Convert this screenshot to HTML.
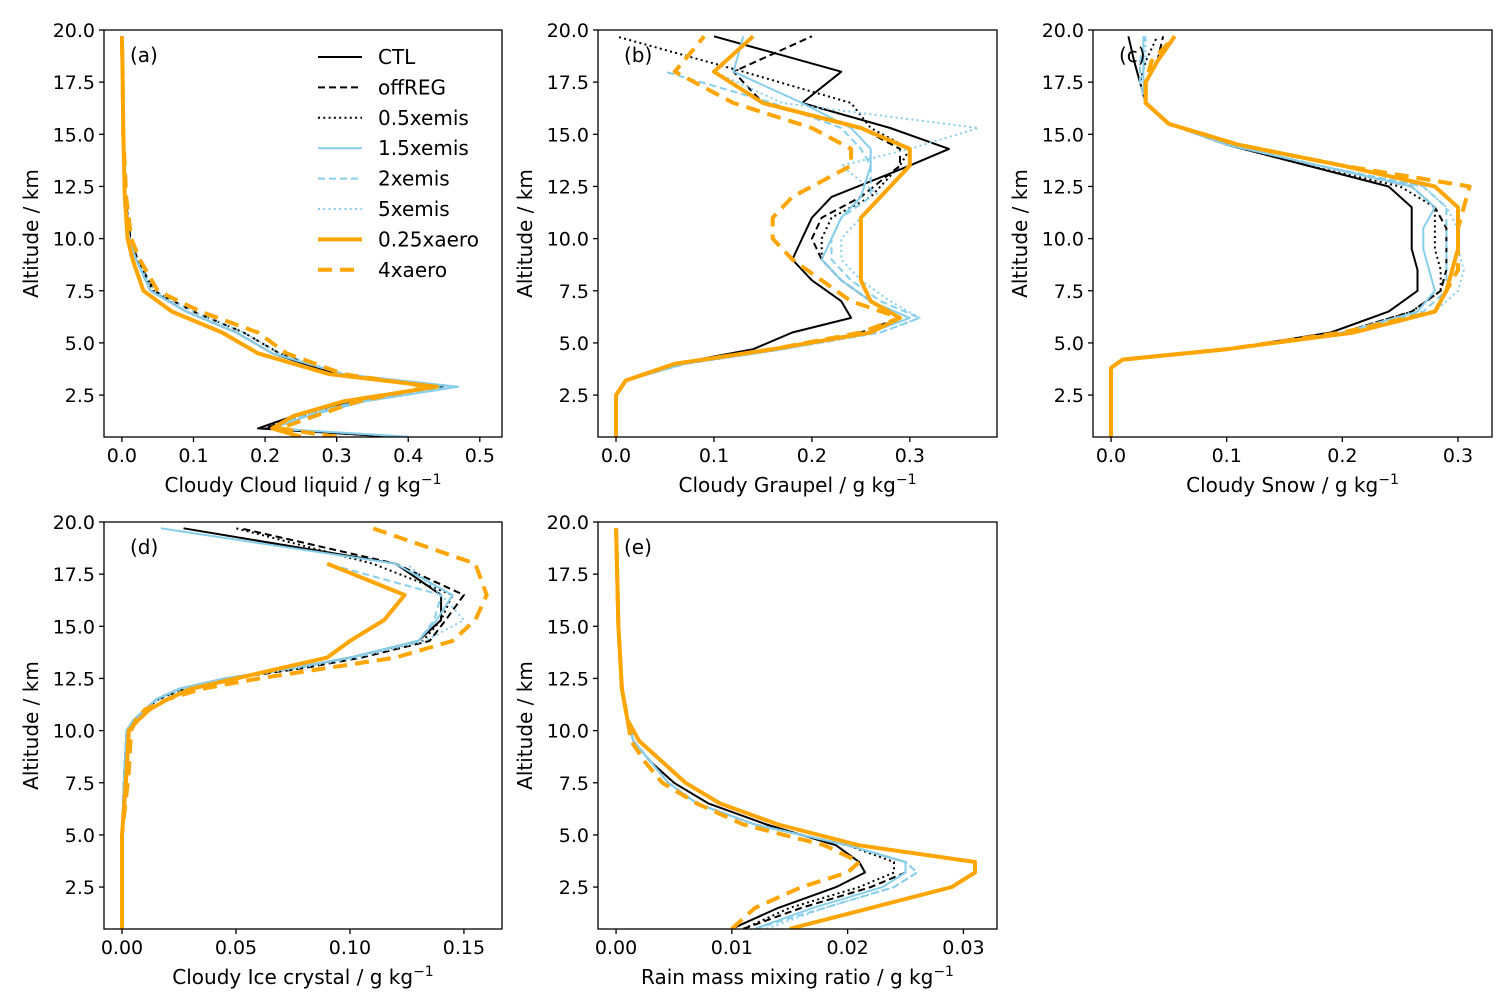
<!DOCTYPE html>
<html><head><meta charset="utf-8">
<style>
html,body{margin:0;padding:0;background:#fff;}
svg{display:block;font-family:"DejaVu Sans","Liberation Sans",sans-serif;}
</style></head>
<body>
<svg id="fig" width="1510" height="1006" viewBox="0 0 1510 1006" xmlns="http://www.w3.org/2000/svg"></svg>
<script>
const seriesNames = ["CTL","offREG","0.5xemis","1.5xemis","2xemis","5xemis","0.25xaero","4xaero"];
const altA = [0.5,0.9,1.5,2.2,2.9,3.5,4.5,5.5,6.5,7.5,9,10,12,15,18,19.7];
const liqCTL   = [0.38,0.19,0.24,0.32,0.44,0.30,0.21,0.16,0.09,0.04,0.02,0.01,0.005,0.002,0.001,0];
const liqOff   = [0.38,0.20,0.25,0.33,0.45,0.30,0.22,0.17,0.10,0.045,0.022,0.012,0.005,0.002,0.001,0];
const liqHalf  = [0.38,0.20,0.24,0.32,0.44,0.30,0.21,0.16,0.09,0.042,0.02,0.011,0.005,0.002,0.001,0];
const liq15    = [0.40,0.21,0.26,0.34,0.47,0.31,0.21,0.16,0.09,0.04,0.02,0.01,0.005,0.002,0.001,0];
const liq2     = [0.40,0.21,0.25,0.33,0.46,0.31,0.21,0.16,0.09,0.04,0.02,0.01,0.005,0.002,0.001,0];
const liq5     = [0.40,0.21,0.25,0.33,0.45,0.31,0.22,0.17,0.10,0.045,0.02,0.01,0.005,0.002,0.001,0];
const liqA025  = [0.25,0.21,0.24,0.31,0.44,0.29,0.19,0.14,0.07,0.03,0.015,0.008,0.004,0.002,0.001,0];
const liqA4    = [0.30,0.22,0.27,0.33,0.43,0.31,0.23,0.19,0.11,0.05,0.025,0.013,0.006,0.002,0.001,0];

const altB = [0.5,2.5,3.2,4,4.7,5.5,6.2,7,8,9,10,11,12,13.5,14.3,15.3,16.5,18,19.7];
const grCTL  = [0,0,0.01,0.06,0.14,0.18,0.24,0.23,0.2,0.18,0.19,0.2,0.22,0.3,0.34,0.28,0.19,0.23,0.1];
const grOff  = [0,0,0.01,0.07,0.17,0.25,0.29,0.26,0.23,0.21,0.2,0.21,0.25,0.29,0.29,0.25,0.15,0.12,0.2];
const grHalf = [0,0,0.01,0.07,0.17,0.26,0.29,0.26,0.23,0.21,0.21,0.22,0.26,0.29,0.3,0.26,0.24,0.13,0.0];
const gr15   = [0,0,0.01,0.07,0.17,0.26,0.30,0.26,0.23,0.21,0.22,0.23,0.25,0.26,0.26,0.24,0.19,0.12,0.13];
const gr2    = [0,0,0.01,0.07,0.17,0.27,0.31,0.27,0.24,0.22,0.22,0.23,0.26,0.26,0.25,0.23,0.16,0.05,null];
const gr5    = [0,0,0.01,0.07,0.17,0.27,0.31,0.28,0.25,0.23,0.23,0.25,0.27,0.23,0.3,0.37,0.17,0.1,null];
const grA025 = [0,0,0.01,0.06,0.16,0.26,0.29,0.26,0.25,0.25,0.25,0.25,0.27,0.3,0.3,0.25,0.15,0.1,0.14];
const grA4   = [0,0,0.01,0.06,0.16,0.25,0.29,0.24,0.21,0.18,0.16,0.16,0.18,0.24,0.24,0.2,0.12,0.06,0.09];

const altC = [0.5,3.8,4.2,4.7,5.5,6.5,7.5,8.5,9.5,10.5,11.5,12.5,13.5,14.5,15.5,16.5,17.5,18.5,19.7];
const snCTL  = [0,0,0.01,0.1,0.19,0.24,0.265,0.265,0.26,0.26,0.26,0.24,0.17,0.1,0.05,0.03,0.025,0.02,0.015];
const snOff  = [0,0,0.01,0.1,0.2,0.26,0.285,0.29,0.29,0.29,0.28,0.26,0.18,0.1,0.05,0.03,0.03,0.04,0.045];
const snHalf = [0,0,0.01,0.1,0.2,0.26,0.285,0.285,0.28,0.28,0.28,0.25,0.17,0.1,0.05,0.03,0.025,0.03,0.04];
const sn15   = [0,0,0.01,0.1,0.2,0.265,0.28,0.275,0.27,0.27,0.28,0.26,0.18,0.1,0.05,0.03,0.028,0.028,0.028];
const sn2    = [0,0,0.01,0.1,0.2,0.27,0.29,0.29,0.29,0.29,0.29,0.27,0.18,0.1,0.05,0.03,0.025,0.025,0.03];
const sn5    = [0,0,0.01,0.1,0.2,0.28,0.3,0.305,0.3,0.3,0.29,0.27,0.18,0.1,0.05,0.03,0.025,0.03,0.03];
const snA025 = [0,0,0.01,0.1,0.21,0.28,0.29,0.295,0.3,0.3,0.3,0.28,0.2,0.11,0.05,0.03,0.03,0.04,0.055];
const snA4   = [0,0,0.01,0.1,0.2,0.28,0.29,0.3,0.3,0.3,0.305,0.31,0.2,0.11,0.05,0.03,0.03,0.035,0.055];

const altD = [0.5,5,8,10,10.5,11,11.5,12,12.5,13,13.5,14.3,15.3,16.5,18,19.7];
const icCTL  = [0,0,0.001,0.002,0.005,0.01,0.015,0.025,0.045,0.075,0.1,0.13,0.14,0.14,0.12,0.027];
const icOff  = [0,0,0.001,0.002,0.005,0.01,0.016,0.027,0.048,0.08,0.105,0.135,0.142,0.15,0.12,0.052];
const icHalf = [0,0,0.001,0.002,0.005,0.01,0.015,0.026,0.046,0.077,0.1,0.132,0.14,0.145,0.11,0.05];
const ic15   = [0,0,0.001,0.002,0.005,0.01,0.015,0.025,0.045,0.075,0.1,0.13,0.138,0.145,0.12,0.017];
const ic2    = [0,0,0.001,0.002,0.005,0.01,0.015,0.025,0.045,0.075,0.1,0.13,0.137,0.14,0.09,null];
const ic5    = [0,0,0.001,0.002,0.005,0.01,0.016,0.027,0.047,0.078,0.103,0.133,0.15,0.14,0.125,null];
const icA025 = [0,0,0.002,0.003,0.007,0.012,0.02,0.03,0.05,0.07,0.09,0.1,0.115,0.124,0.09,null];
const icA4   = [0,0,0.003,0.004,0.006,0.01,0.02,0.035,0.06,0.09,0.12,0.145,0.155,0.16,0.155,0.11];

const altE = [0.5,1.5,2.5,3.2,3.7,4.5,5.5,6.5,7.5,8.5,9.5,10.5,12,15,19.7];
const rnCTL  = [0.01,0.014,0.019,0.0215,0.021,0.019,0.013,0.008,0.005,0.003,0.0015,0.001,0.0005,0.0002,0];
const rnOff  = [0.011,0.016,0.022,0.025,0.025,0.02,0.012,0.007,0.0045,0.003,0.0015,0.001,0.0005,0.0002,0];
const rnHalf = [0.011,0.015,0.021,0.024,0.024,0.02,0.012,0.007,0.0045,0.003,0.0015,0.001,0.0005,0.0002,0];
const rn15   = [0.012,0.017,0.023,0.025,0.025,0.02,0.012,0.007,0.0045,0.003,0.0015,0.001,0.0005,0.0002,0];
const rn2    = [0.012,0.018,0.024,0.026,0.025,0.02,0.012,0.007,0.0045,0.003,0.0015,0.001,0.0005,0.0002,0];
const rn5    = [0.013,0.018,0.024,0.026,0.025,0.02,0.012,0.007,0.0045,0.003,0.0015,0.001,0.0005,0.0002,0];
const rnA025 = [0.015,0.022,0.029,0.031,0.031,0.021,0.014,0.009,0.006,0.004,0.002,0.001,0.0005,0.0002,0];
const rnA4   = [0.01,0.012,0.016,0.02,0.021,0.018,0.011,0.007,0.004,0.0025,0.0013,0.001,0.0005,0.0002,0];

const yTicks = ["2.5","5.0","7.5","10.0","12.5","15.0","17.5","20.0"];
const xTicksA = ["0.0","0.1","0.2","0.3","0.4","0.5"];
const xTicksB = ["0.0","0.1","0.2","0.3"];
const xTicksD = ["0.00","0.05","0.10","0.15"];
const xTicksE = ["0.00","0.01","0.02","0.03"];

const styles = [
 {c:"#000",w:2,d:""},{c:"#000",w:2,d:"7,4"},{c:"#000",w:2,d:"2,3.3"},
 {c:"#87CEEB",w:2,d:""},{c:"#87CEEB",w:2,d:"7,4"},{c:"#87CEEB",w:2,d:"2,3.3"},
 {c:"#FFA500",w:4,d:""},{c:"#FFA500",w:4,d:"14,8"}];

const NS="http://www.w3.org/2000/svg";
const svg=document.getElementById('fig');
function mk(tag,attrs,parent){const e=document.createElementNS(NS,tag);for(const k in attrs)e.setAttribute(k,attrs[k]);(parent||svg).appendChild(e);return e;}

const panels=[
 {id:"a",label:"(a)",x0:104,x1:502,y0:30,y1:437,xmin:-0.025,xmax:0.531,ticks:xTicksA,alt:altA,data:[liqCTL,liqOff,liqHalf,liq15,liq2,liq5,liqA025,liqA4],xt:"Cloudy Cloud liquid / g kg"},
 {id:"b",label:"(b)",x0:598,x1:997,y0:30,y1:437,xmin:-0.0184,xmax:0.389,ticks:xTicksB,alt:altB,data:[grCTL,grOff,grHalf,gr15,gr2,gr5,grA025,grA4],xt:"Cloudy Graupel / g kg"},
 {id:"c",label:"(c)",x0:1093,x1:1492,y0:30,y1:437,xmin:-0.0156,xmax:0.3294,ticks:xTicksB,alt:altC,data:[snCTL,snOff,snHalf,sn15,sn2,sn5,snA025,snA4],xt:"Cloudy Snow / g kg"},
 {id:"d",label:"(d)",x0:104,x1:502,y0:522,y1:929,xmin:-0.0079,xmax:0.1667,ticks:xTicksD,alt:altD,data:[icCTL,icOff,icHalf,ic15,ic2,ic5,icA025,icA4],xt:"Cloudy Ice crystal / g kg"},
 {id:"e",label:"(e)",x0:598,x1:997,y0:522,y1:929,xmin:-0.00156,xmax:0.0329,ticks:xTicksE,alt:altE,data:[rnCTL,rnOff,rnHalf,rn15,rn2,rn5,rnA025,rnA4],xt:"Rain mass mixing ratio / g kg"}
];
const yMin=0.49,yMax=20;

panels.forEach(p=>{
  const g=mk('g',{});
  
  
  const sx=v=>p.x0+(v-p.xmin)/(p.xmax-p.xmin)*(p.x1-p.x0);
  const sy=v=>p.y1-(v-yMin)/(yMax-yMin)*(p.y1-p.y0);
  const cid='clip'+p.id;
  const cp=mk('clipPath',{id:cid},g);
  mk('rect',{x:p.x0,y:p.y0,width:p.x1-p.x0,height:p.y1-p.y0},cp);
  const lg=mk('g',{'clip-path':'url(#'+cid+')'},g);
  p.data.forEach((arr,i)=>{
    let d="";let started=false;
    arr.forEach((v,k)=>{ if(v===null)return; d+=(started?"L":"M")+sx(v).toFixed(1)+","+sy(p.alt[k]).toFixed(1); started=true;});
    const s=styles[i];
    const path=mk('path',{d:d,fill:'none',stroke:s.c,'stroke-width':s.w,'stroke-dasharray':s.d,'stroke-linejoin':'round'},lg);
    
    
  });
  const fr=mk('rect',{x:p.x0,y:p.y0,width:p.x1-p.x0,height:p.y1-p.y0,fill:'none',stroke:'#000','stroke-width':1.3},g);
  
  
  yTicks.forEach(t=>{
    const y=sy(parseFloat(t));
    mk('line',{x1:p.x0-5,x2:p.x0,y1:y,y2:y,stroke:'#000','stroke-width':1.3},g);
    const tx=mk('text',{x:p.x0-9,y:y+7,'font-size':19,'text-anchor':'end'},g);
    tx.textContent=t;
    
    
  });
  p.ticks.forEach(t=>{
    const x=sx(parseFloat(t));
    mk('line',{x1:x,x2:x,y1:p.y1,y2:p.y1+5,stroke:'#000','stroke-width':1.3},g);
    const tx=mk('text',{x:x,y:p.y1+25,'font-size':19,'text-anchor':'middle'},g);
    tx.textContent=t;
    
    
  });
  const yt=mk('text',{x:0,y:0,'font-size':20,'text-anchor':'middle',transform:`translate(${p.x0-66},${(p.y0+p.y1)/2}) rotate(-90)`},g);
  yt.textContent="Altitude / km";
  
  
  const xt=mk('text',{x:(p.x0+p.x1)/2,y:p.y1+55,'font-size':20,'text-anchor':'middle'},g);
  xt.textContent=p.xt;
  const sup=mk('tspan',{'font-size':14,dy:-8},xt);
  sup.textContent="−1";
  
  
  const lb=mk('text',{x:p.x0+26,y:p.y0+32,'font-size':20},g);
  lb.textContent=p.label;
  
  
});

const leg=mk('g',{});


seriesNames.forEach((n,i)=>{
  const y=57+i*30.4;const s=styles[i];
  const ln=mk('line',{x1:318,x2:362,y1:y,y2:y,stroke:s.c,'stroke-width':s.w,'stroke-dasharray':s.d},leg);
  
  
  const t=mk('text',{x:378,y:y+7,'font-size':20},leg);
  t.textContent=n;
  
  
});
</script>
</body></html>
